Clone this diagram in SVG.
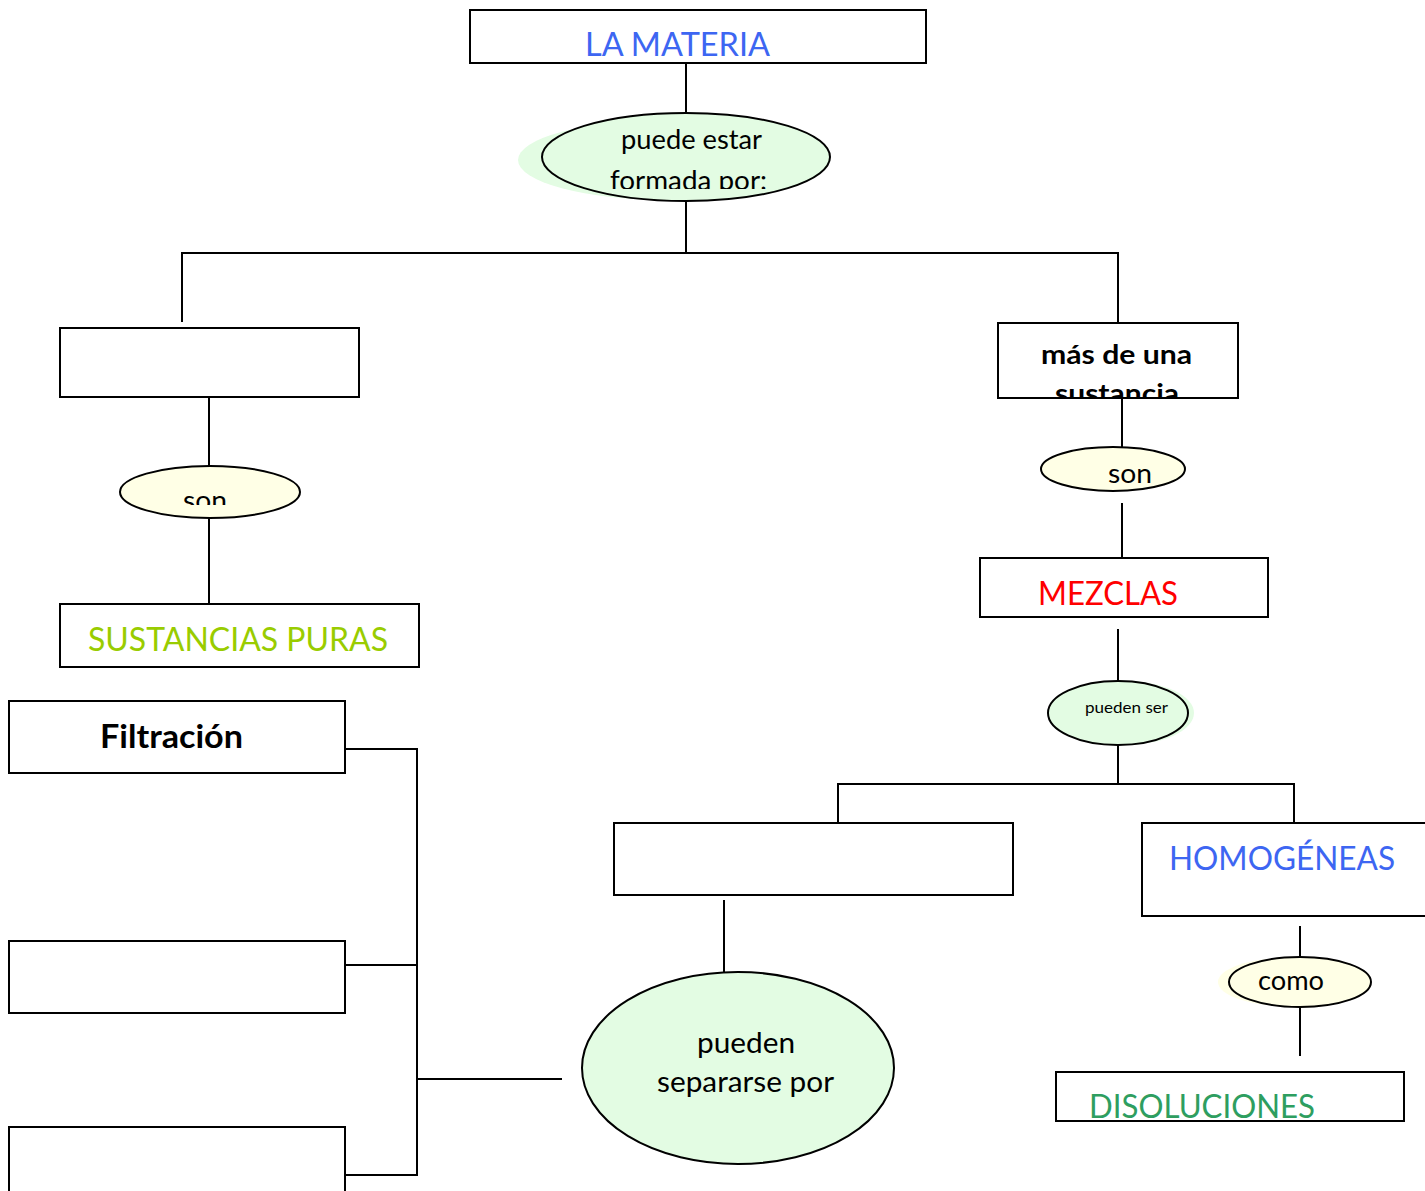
<svg xmlns="http://www.w3.org/2000/svg" width="1425" height="1191" viewBox="0 0 1425 1191">
<style>
  .box{fill:#fff;stroke:#000;stroke-width:2}
  .ell{stroke:#000;stroke-width:2}
  .g{fill:#e3fce3}
  .y{fill:#ffffe6}
  .t{font-family:"Lato","Open Sans",sans-serif;fill:#000}
  .conn line, .conn polyline{stroke:#000;stroke-width:2;fill:none}
</style>
<defs>
  <clipPath id="c-top"><rect x="540" y="110" width="300" height="79"/></clipPath>
  <clipPath id="c-mas"><rect x="998" y="323" width="240" height="75"/></clipPath>
  <clipPath id="c-son1"><rect x="118" y="464" width="186" height="41"/></clipPath>
  <clipPath id="c-dis"><rect x="1056" y="1072" width="348" height="48"/></clipPath>
</defs>
<rect width="1425" height="1191" fill="#fff"/>

<g class="conn">
  <line x1="686" y1="63" x2="686" y2="113"/>
  <line x1="686" y1="200" x2="686" y2="253"/>
  <polyline points="182,322 182,253 1118,253 1118,323"/>
  <line x1="209" y1="397" x2="209" y2="466"/>
  <line x1="209" y1="518" x2="209" y2="604"/>
  <line x1="1122" y1="398" x2="1122" y2="447"/>
  <line x1="1122" y1="503" x2="1122" y2="560"/>
  <line x1="1118" y1="629" x2="1118" y2="681"/>
  <line x1="1118" y1="745" x2="1118" y2="784"/>
  <polyline points="838,823 838,784 1294,784 1294,823"/>
  <line x1="724" y1="900" x2="724" y2="972"/>
  <line x1="1300" y1="926" x2="1300" y2="957"/>
  <line x1="1300" y1="1007" x2="1300" y2="1056"/>
  <polyline points="345,749 417,749 417,1175 345,1175"/>
  <line x1="345" y1="965" x2="417" y2="965"/>
  <line x1="417" y1="1079" x2="562" y2="1079"/>
</g>

<g id="la-materia">
  <rect class="box" x="470" y="10" width="456" height="53"/>
  <text class="t" x="585" y="56" font-size="32" textLength="185" lengthAdjust="spacingAndGlyphs" style="fill:#3d66f2">LA MATERIA</text>
</g>

<g id="puede-estar">
  <ellipse cx="668" cy="160" rx="150" ry="40" fill="#e3fce3"/>
  <ellipse class="ell g" cx="686" cy="157" rx="144" ry="44"/>
  <g clip-path="url(#c-top)">
    <text class="t" x="621" y="149" font-size="26" textLength="141" lengthAdjust="spacingAndGlyphs">puede estar</text>
    <text class="t" x="610" y="190" font-size="26" textLength="157" lengthAdjust="spacingAndGlyphs">formada por:</text>
  </g>
</g>

<g id="box-left-empty">
  <rect class="box" x="60" y="328" width="299" height="69"/>
</g>

<g id="mas-de-una">
  <rect class="box" x="998" y="323" width="240" height="75"/>
  <g clip-path="url(#c-mas)">
    <text class="t" x="1041" y="364" font-size="27" font-weight="bold" textLength="151" lengthAdjust="spacingAndGlyphs">más de una</text>
    <text class="t" x="1055" y="403" font-size="27" font-weight="bold" textLength="124" lengthAdjust="spacingAndGlyphs">sustancia</text>
  </g>
</g>

<g id="son-left">
  <ellipse class="ell y" cx="210" cy="492" rx="90" ry="26"/>
  <g clip-path="url(#c-son1)">
    <text class="t" x="183" y="510" font-size="27" textLength="44" lengthAdjust="spacingAndGlyphs">son</text>
  </g>
</g>

<g id="sustancias-puras">
  <rect class="box" x="60" y="604" width="359" height="63"/>
  <text class="t" x="88" y="651" font-size="32" textLength="300" lengthAdjust="spacingAndGlyphs" style="fill:#99cc00">SUSTANCIAS PURAS</text>
</g>

<g id="son-right">
  <ellipse class="ell y" cx="1113" cy="469" rx="72" ry="22"/>
  <text class="t" x="1108" y="483" font-size="27" textLength="44" lengthAdjust="spacingAndGlyphs">son</text>
</g>

<g id="mezclas">
  <rect class="box" x="980" y="558" width="288" height="59"/>
  <text class="t" x="1038" y="605" font-size="32" textLength="140" lengthAdjust="spacingAndGlyphs" style="fill:#ff0000">MEZCLAS</text>
</g>

<g id="pueden-ser">
  <ellipse cx="1124" cy="713" rx="70" ry="32" fill="#e3fce3"/>
  <ellipse class="ell g" cx="1118" cy="713" rx="70" ry="32"/>
  <text class="t" x="1085" y="713" font-size="16" textLength="83" lengthAdjust="spacingAndGlyphs">pueden ser</text>
</g>

<g id="box-middle-empty">
  <rect class="box" x="614" y="823" width="399" height="72"/>
</g>

<g id="homogeneas">
  <rect class="box" x="1142" y="823" width="300" height="93"/>
  <text class="t" x="1169" y="870" font-size="32" textLength="226" lengthAdjust="spacingAndGlyphs" style="fill:#3d66f2">HOMOGÉNEAS</text>
</g>

<g id="como">
  <ellipse cx="1288" cy="982" rx="70" ry="24" fill="#ffffe6"/>
  <ellipse class="ell y" cx="1300" cy="982" rx="71" ry="25"/>
  <text class="t" x="1258" y="990" font-size="26" textLength="66" lengthAdjust="spacingAndGlyphs">como</text>
</g>

<g id="disoluciones">
  <rect class="box" x="1056" y="1072" width="348" height="49"/>
  <g clip-path="url(#c-dis)">
    <text class="t" x="1089" y="1118" font-size="32" textLength="226" lengthAdjust="spacingAndGlyphs" style="fill:#2e9e60">DISOLUCIONES</text>
  </g>
</g>

<g id="pueden-separarse">
  <ellipse class="ell g" cx="738" cy="1068" rx="156" ry="96"/>
  <text class="t" x="697" y="1053" font-size="28" textLength="98" lengthAdjust="spacingAndGlyphs">pueden</text>
  <text class="t" x="657" y="1092" font-size="28" textLength="177" lengthAdjust="spacingAndGlyphs">separarse por</text>
</g>

<g id="filtracion">
  <rect class="box" x="9" y="701" width="336" height="72"/>
  <text class="t" x="100" y="748" font-size="32" font-weight="bold" textLength="143" lengthAdjust="spacingAndGlyphs">Filtración</text>
</g>

<g id="box-sep-2">
  <rect class="box" x="9" y="941" width="336" height="72"/>
</g>

<g id="box-sep-3">
  <rect class="box" x="9" y="1127" width="336" height="80"/>
</g>
</svg>
